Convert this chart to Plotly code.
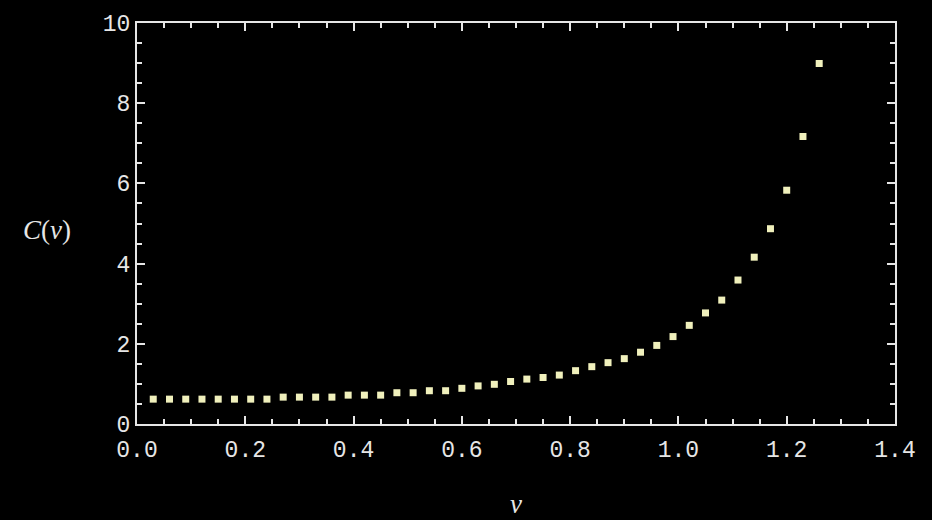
import plotly.graph_objects as go

# data
nu = [round(0.03 * k, 2) for k in range(1, 43)]
c_values = [
    0.62, 0.62, 0.62, 0.62, 0.62, 0.62, 0.62, 0.62,
    0.67, 0.67, 0.67, 0.67,
    0.72, 0.72, 0.72,
    0.78, 0.78, 0.83, 0.83, 0.89, 0.95, 0.99, 1.06, 1.12, 1.16, 1.22,
    1.33, 1.43, 1.53, 1.63, 1.79, 1.96, 2.18, 2.46, 2.77, 3.09, 3.59,
    4.16, 4.87, 5.83, 7.17, 8.99,
]
x_ticks = [0.0, 0.2, 0.4, 0.6, 0.8, 1.0, 1.2, 1.4]
y_ticks = [0, 2, 4, 6, 8, 10]

fg = "#e6e6e6"
tick_font = dict(family="Liberation Mono", size=23, color=fg)

fig = go.Figure()
fig.add_trace(go.Scatter(
    x=nu, y=c_values, mode="markers",
    marker=dict(symbol="square", size=7, color="#f0f0bc", line=dict(width=0)),
    showlegend=False,
))

axis_common = dict(
    showline=True, linecolor=fg, linewidth=2, mirror="allticks",
    ticks="inside", tickcolor=fg, tickwidth=2, ticklen=8,
    showgrid=False, zeroline=False, tickfont=tick_font,
)

fig.update_xaxes(
    range=[0, 1.4], tickvals=x_ticks, ticktext=[f"{v:.1f}" for v in x_ticks],
    ticklabelstandoff=3,
    minor=dict(dtick=0.05, tick0=0, ticks="inside", ticklen=5, tickcolor=fg, tickwidth=2, showgrid=False),
    **axis_common,
)
fig.update_yaxes(
    range=[0, 10], tickvals=y_ticks, ticktext=[str(v) for v in y_ticks],
    minor=dict(dtick=0.5, tick0=0, ticks="inside", ticklen=5, tickcolor=fg, tickwidth=2, showgrid=False),
    **axis_common,
)

fig.update_layout(
    width=932, height=520,
    margin=dict(l=137, r=37, t=21, b=96),
    paper_bgcolor="#000000", plot_bgcolor="#000000",
    annotations=[
        dict(text="<i>C</i>(<i>ν</i>)", xref="paper", yref="paper", x=-0.119, y=0.485,
             xanchor="center", yanchor="middle", showarrow=False,
             font=dict(family="Liberation Serif", size=27, color=fg)),
        dict(text="<i>ν</i>", xref="paper", yref="paper", x=0.5, y=-0.2,
             xanchor="center", yanchor="middle", showarrow=False,
             font=dict(family="Liberation Serif", size=27, color=fg)),
    ],
)

fig.write_html(
    "out.html",
    config={"displayModeBar": False},
    post_script="document.body.style.margin='0';document.body.style.background='#000';",
)
